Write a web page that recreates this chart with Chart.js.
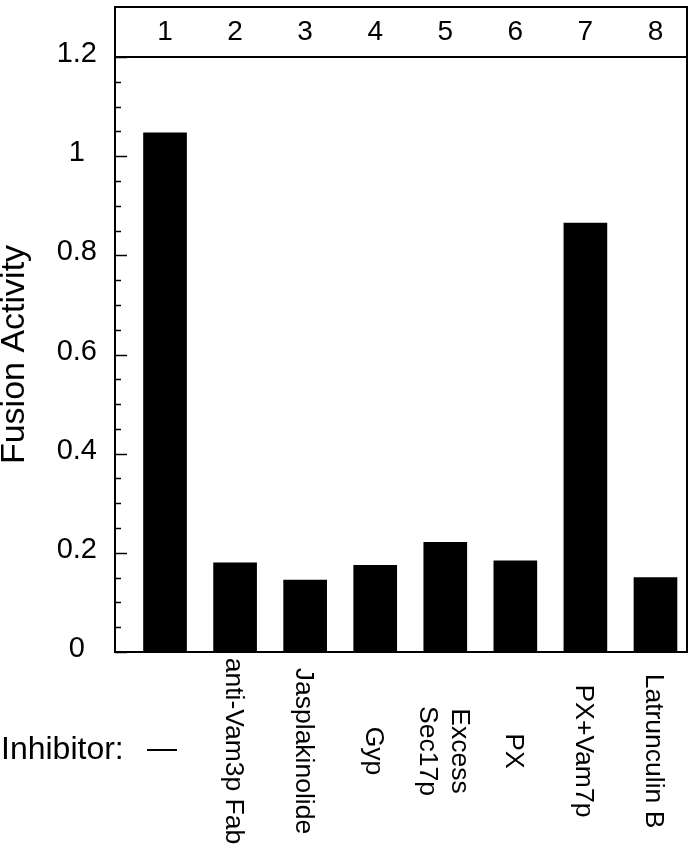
<!DOCTYPE html>
<html><head><meta charset="utf-8">
<script src="https://cdn.jsdelivr.net/npm/chart.js@4.4.1/dist/chart.umd.min.js"></script>
<style>html,body{margin:0;padding:0;background:#fff}canvas{display:block}</style>
</head><body>
<canvas id="c" width="695" height="853"></canvas>
<script>
const categories = [1, 2, 3, 4, 5, 6, 7, 8];
const laneNumbers = ['1', '2', '3', '4', '5', '6', '7', '8'];
const inhibitors = ['—', 'anti-Vam3p Fab', 'Jasplakinolide', 'Gyp', ['Excess', 'Sec17p'], 'PX', 'PX+Vam7p', 'Latrunculin B'];
const fusionActivity = [1.047, 0.180, 0.145, 0.175, 0.221, 0.184, 0.865, 0.150];
const yTickValues = [0, 0.2, 0.4, 0.6, 0.8, 1.0, 1.2];
const yTickLabels = ['0', '0.2', '0.4', '0.6', '0.8', '1', '1.2'];
const yTitle = 'Fusion Activity';
const rowTitle = 'Inhibitor:';

const FONT = "'Liberation Sans', Arial, Helvetica, sans-serif";
const X_MIN = 0.286, X_MAX = 8.45;

const decor = {
  id: 'decor',
  afterDraw(chart) {
    const ctx = chart.ctx, ca = chart.chartArea;
    const xs = chart.scales.x, ys = chart.scales.y;
    ctx.save();
    ctx.strokeStyle = '#000';
    ctx.lineWidth = 2;
    ctx.strokeRect(ca.left, 7, ca.right - ca.left, ca.top - 7);
    ctx.beginPath(); ctx.moveTo(ca.right, ca.top); ctx.lineTo(ca.right, ca.bottom + 1); ctx.stroke();
    ctx.lineWidth = 1.5;
    ys.ticks.forEach(t => {
      const py = Math.round(ys.getPixelForValue(t.value)) + 0.5;
      const major = yTickValues.some(v => Math.abs(v - t.value) < 1e-6);
      ctx.beginPath(); ctx.moveTo(ca.left, py); ctx.lineTo(ca.left + (major ? 12 : 6), py); ctx.stroke();
    });
    ctx.fillStyle = '#000';
    ctx.font = '32px ' + FONT;
    ctx.textAlign = 'left'; ctx.textBaseline = 'middle';
    ctx.fillText(rowTitle, 1, 750);
    categories.forEach((c, i) => {
      const px = xs.getPixelForValue(c);
      const lab = inhibitors[i];
      if (lab === '—') {
        ctx.font = '30px ' + FONT;
        ctx.textAlign = 'center'; ctx.textBaseline = 'middle';
        ctx.fillText(lab, px - 3, 750);
        return;
      }
      const lines = Array.isArray(lab) ? lab : [lab];
      ctx.save();
      ctx.translate(px, 751);
      ctx.rotate(Math.PI / 2);
      ctx.font = '26.5px ' + FONT;
      ctx.textAlign = 'center'; ctx.textBaseline = 'middle';
      lines.forEach((ln, k) => {
        ctx.fillText(ln, 0, (k - (lines.length - 1) / 2) * 32 + 2);
      });
      ctx.restore();
    });
    ctx.restore();
  }
};

new Chart(document.getElementById('c'), {
  type: 'bar',
  data: {
    datasets: [{
      data: categories.map((c, i) => ({x: c, y: fusionActivity[i]})),
      backgroundColor: '#000',
      borderWidth: 0,
      barThickness: 43,
      xAxisID: 'x',
      yAxisID: 'y'
    }]
  },
  options: {
    responsive: false,
    devicePixelRatio: 1,
    animation: false,
    layout: {padding: {left: 0, right: 8, top: 0, bottom: 0}},
    plugins: {legend: {display: false}, tooltip: {enabled: false}},
    scales: {
      x: {
        type: 'linear', position: 'bottom', min: X_MIN, max: X_MAX, offset: false,
        grid: {display: false, drawTicks: false},
        border: {display: true, color: '#000', width: 2},
        ticks: {display: false},
        afterFit(s) { s.height = 201; }
      },
      x2: {
        type: 'linear', position: 'top', min: X_MIN, max: X_MAX, offset: false,
        grid: {display: false, drawTicks: false},
        border: {display: false},
        afterBuildTicks(s) { s.ticks = categories.map(v => ({value: v})); },
        ticks: {
          autoSkip: false, maxRotation: 0, padding: 8, color: '#000',
          font: {family: FONT, size: 28},
          callback(v) {
            const i = categories.indexOf(Math.round(v));
            return i >= 0 ? laneNumbers[i] : '';
          }
        },
        afterFit(s) { s.height = 57; }
      },
      y: {
        type: 'linear', position: 'left', min: 0, max: 1.2,
        grid: {display: false, drawTicks: false},
        border: {display: true, color: '#000', width: 2},
        ticks: {
          stepSize: 0.05, autoSkip: false, crossAlign: 'center', padding: 18, labelOffset: -3,
          color: '#000', font: {family: FONT, size: 29},
          callback(v) {
            const k = yTickValues.findIndex(t => Math.abs(t - v) < 1e-6);
            return k >= 0 ? yTickLabels[k] : '';
          }
        },
        title: {
          display: true, text: yTitle, color: '#000', padding: {top: 3, bottom: 0},
          font: {family: FONT, size: 34, lineHeight: 0.7}
        },
        afterFit(s) { s.width = 115; }
      }
    }
  },
  plugins: [decor]
});
</script>
</body></html>
